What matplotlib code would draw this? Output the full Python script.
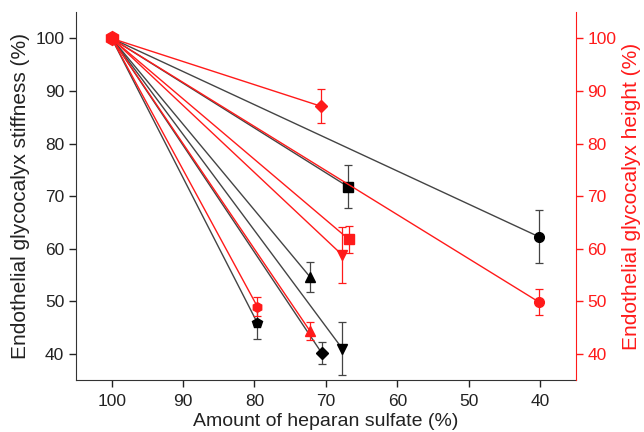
import matplotlib.pyplot as plt

plt.rcParams['font.family'] = ['Liberation Sans', 'DejaVu Sans']

# --- DATA ---
x0, y0 = 100.0, 100.0

stiff_x = [40.2, 66.9, 72.2, 67.7, 70.6, 79.6]
stiff_y = [62.3, 71.8, 54.6, 41.0, 40.2, 45.9]
stiff_err = [5.1, 4.1, 2.9, 5.0, 2.1, 3.0]
stiff_mk = ['o', 's', '^', 'v', 'D', 'p']

height_x = [70.7, 40.2, 66.8, 67.7, 72.2, 79.6]
height_y = [87.1, 49.9, 61.8, 58.8, 44.3, 49.0]
height_err = [3.2, 2.5, 2.6, 5.3, 1.7, 1.8]
height_mk = ['D', 'o', 's', 'v', '^', 'h']

xticks = [100, 90, 80, 70, 60, 50, 40]
yticks = [40, 50, 60, 70, 80, 90, 100]

red = '#ff1a1a'
gray = '#444444'

fig = plt.figure(figsize=(6.44, 4.32), dpi=100)
ax = fig.add_axes([0.118, 0.120, 0.776, 0.852])
ax2 = ax.twinx()

# --- stiffness (black, left axis) ---
for x, y, e, m in zip(stiff_x, stiff_y, stiff_err, stiff_mk):
    ax.plot([x0, x], [y0, y], '-', color=gray, lw=1.0)
    ax.errorbar(x, y, yerr=e, fmt=m, color='black', ms=7 if m != 'D' else 6,
                ecolor=gray, elinewidth=0.9, capsize=3, capthick=0.9)

# --- height (red, right axis) ---
for x, y, e, m in zip(height_x, height_y, height_err, height_mk):
    ax2.plot([x0, x], [y0, y], '-', color=red, lw=1.0)
    ax2.errorbar(x, y, yerr=e, fmt=m, color=red, ms=7 if m != 'D' else 6,
                 ecolor=red, elinewidth=0.9, capsize=3, capthick=0.9)
ax2.errorbar(x0, y0, yerr=0.6, fmt='h', color=red, ms=10,
             ecolor=red, elinewidth=0.9, capsize=3)

for a in (ax, ax2):
    a.set_xlim(105, 35)
    a.set_ylim(35, 105)
    a.spines['top'].set_visible(False)

ax.spines['right'].set_visible(False)
ax2.spines['left'].set_visible(False)
ax2.spines['bottom'].set_visible(False)
ax2.spines['right'].set_color(red)

ax.set_xticks(xticks)
ax.set_yticks(yticks)
ax2.set_yticks(yticks)
ax.tick_params(direction='out', length=5, width=1, labelsize=12.5, colors='#222222')
ax.tick_params(axis='x', pad=5)
ax2.tick_params(axis='y', direction='out', length=5, width=1, labelsize=12.5,
                colors=red)
for s in ('left', 'bottom'):
    ax.spines[s].set_color('#333333')

ax.set_xlabel('Amount of heparan sulfate (%)', fontsize=14, color='#222222', labelpad=3)
ax.set_ylabel('Endothelial glycocalyx stiffness (%)', fontsize=15, color='#222222', labelpad=4)
ax2.set_ylabel('Endothelial glycocalyx height (%)', fontsize=15, color=red, labelpad=4)

fig.savefig('out.png', dpi=100, facecolor='white')
plt.close(fig)
